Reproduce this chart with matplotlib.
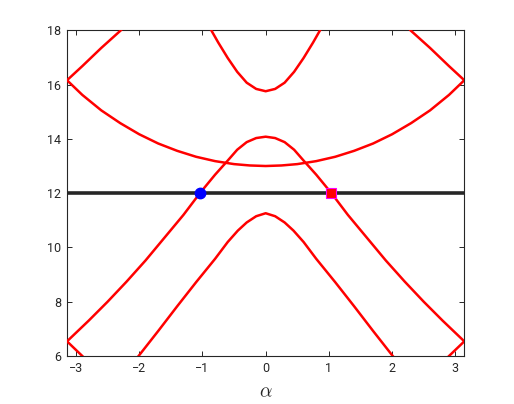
import numpy as np
import matplotlib
matplotlib.use('Agg')
import matplotlib.pyplot as plt

plt.rcParams['font.family'] = ['Roboto', 'DejaVu Sans']
plt.rcParams['mathtext.fontset'] = 'cm'

# значення (alpha, E)
band1_a = [-2.01, -1.7, -1.4, -1.1, -0.8, -0.6, -0.44, -0.3, -0.15, 0.0,
           0.15, 0.3, 0.44, 0.6, 0.8, 1.1, 1.4, 1.7, 2.01]
band1_e = [6.0, 6.92, 7.83, 8.72, 9.58, 10.2, 10.62, 10.92, 11.15, 11.26,
           11.15, 10.92, 10.62, 10.2, 9.58, 8.72, 7.83, 6.92, 6.0]

band2_a = [-3.1416, -2.8, -2.5, -2.2, -1.9, -1.6, -1.3, -1.04, -0.8, -0.6, -0.45,
           -0.3, -0.15, 0.0, 0.15, 0.3, 0.45, 0.6, 0.8, 1.04, 1.3, 1.6, 1.9,
           2.2, 2.5, 2.8, 3.1416]
band2_e = [6.54, 7.30, 8.0, 8.74, 9.52, 10.36, 11.2, 12.0, 12.68, 13.2, 13.6,
           13.88, 14.03, 14.08, 14.03, 13.88, 13.6, 13.2, 12.68, 12.0, 11.2, 10.36, 9.52,
           8.74, 8.0, 7.30, 6.54]

band3l_a = [-3.1416, -2.90]
band3l_e = [6.54, 6.0]
band3r_a = [2.90, 3.1416]
band3r_e = [6.0, 6.54]

band4_a = [-3.1416, -2.9, -2.6, -2.3, -2.0, -1.7, -1.4, -1.1, -0.8, -0.5, -0.25, 0.0,
           0.25, 0.5, 0.8, 1.1, 1.4, 1.7, 2.0, 2.3, 2.6, 2.9, 3.1416]
band4_e = [16.16, 15.62, 15.05, 14.58, 14.17, 13.83, 13.56, 13.34, 13.18, 13.07, 13.02, 13.0,
           13.02, 13.07, 13.18, 13.34, 13.56, 13.83, 14.17, 14.58, 15.05, 15.62, 16.16]

band5l_a = [-3.1416, -2.90, -2.60, -2.29]
band5l_e = [16.16, 16.68, 17.35, 18.0]
band5r_a = [2.29, 2.60, 2.90, 3.1416]
band5r_e = [18.0, 17.35, 16.68, 16.16]

band6_a = [-0.86, -0.75, -0.6, -0.45, -0.3, -0.15, 0.0,
           0.15, 0.3, 0.45, 0.6, 0.75, 0.86]
band6_e = [18.0, 17.55, 16.98, 16.47, 16.07, 15.84, 15.755,
           15.84, 16.07, 16.47, 16.98, 17.55, 18.0]

level = 12
blue_pt = (-1.04, 12)
red_pt = (1.04, 12)

fig = plt.figure(figsize=(5.14, 4.04), dpi=100)
ax = fig.add_axes([0.1304, 0.1188, 0.7729, 0.8062])

ax.axhline(level, color=(0.15, 0.15, 0.15), lw=2.6, zorder=2)

for a, e in [(band1_a, band1_e), (band2_a, band2_e), (band3l_a, band3l_e),
             (band3r_a, band3r_e), (band4_a, band4_e), (band5l_a, band5l_e),
             (band5r_a, band5r_e), (band6_a, band6_e)]:
    ax.plot(a, e, color='red', lw=1.8, zorder=3, solid_joinstyle='round')

ax.plot(*blue_pt, 'o', color='blue', ms=7.5, zorder=4)
ax.plot(*red_pt, 's', markerfacecolor='red', markeredgecolor='magenta', ms=6.5, mew=0.8, zorder=4)

ax.set_xlim(-np.pi, np.pi)
ax.set_ylim(6, 18)
ax.set_xticks([-3, -2, -1, 0, 1, 2, 3])
ax.set_yticks([6, 8, 10, 12, 14, 16, 18])
ax.tick_params(direction='in', top=True, right=True, length=3.5, width=0.7,
               labelsize=9, colors=(0.15, 0.15, 0.15), pad=4)
for s in ax.spines.values():
    s.set_color((0.15, 0.15, 0.15))
    s.set_linewidth(0.8)
ax.set_xlabel(r'$\alpha$', fontsize=14, color=(0.15, 0.15, 0.15), labelpad=6)

fig.savefig('out.png', dpi=100)
